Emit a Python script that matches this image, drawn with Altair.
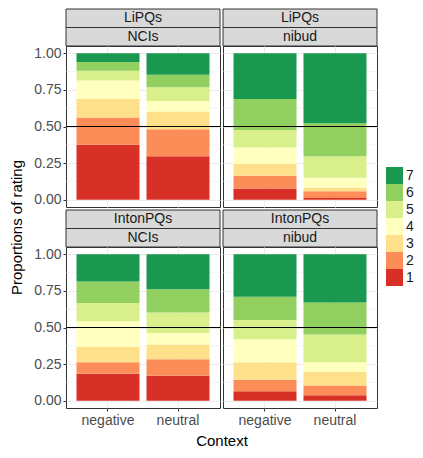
import altair as alt
import pandas as pd

# ---------------- data ----------------
contexts = ["negative", "neutral"]
ratings = ["1", "2", "3", "4", "5", "6", "7"]
palette = ["#D73027", "#FC8D59", "#FEE08B", "#FFFFBF", "#D9EF8B", "#91CF60", "#1A9850"]
row_labels = ["LiPQs", "IntonPQs"]
col_labels = ["NCIs", "nibud"]

# proportions of ratings 1..7 per context
lipqs_ncis_negative = [0.376, 0.186, 0.126, 0.126, 0.067, 0.059, 0.060]
lipqs_ncis_neutral = [0.296, 0.186, 0.120, 0.073, 0.093, 0.086, 0.146]
lipqs_nibud_negative = [0.077, 0.087, 0.079, 0.113, 0.120, 0.212, 0.312]
lipqs_nibud_neutral = [0.011, 0.047, 0.026, 0.066, 0.146, 0.226, 0.478]
inton_ncis_negative = [0.184, 0.079, 0.106, 0.173, 0.126, 0.146, 0.186]
inton_ncis_neutral = [0.170, 0.113, 0.100, 0.079, 0.140, 0.159, 0.239]
inton_nibud_negative = [0.064, 0.079, 0.119, 0.158, 0.132, 0.158, 0.290]
inton_nibud_neutral = [0.037, 0.066, 0.093, 0.066, 0.191, 0.217, 0.330]

y_ticks = [0, 0.25, 0.5, 0.75, 1.0]
minor_ticks = [0.125, 0.375, 0.625, 0.875]
reference_line = [0.5]

# ---------------- layout ----------------
W = 154
H = 161
SH = 18.5
GAP = 3
COLGAP = 3
FONT = "Liberation Sans"
Y_DOMAIN = [-0.05, 1.05]


def strip(top_label, bottom_label, gap):
    df = pd.DataFrame({"level": ["a", "b"], "label": [top_label, bottom_label]})
    y = alt.Y(
        "level:N",
        axis=None,
        scale=alt.Scale(domain=["a", "b"], range=[gap, gap + 2 * SH],
                        paddingInner=0, paddingOuter=0),
    )
    base = alt.Chart(df).encode(y=y)
    rect = base.mark_rect(fill="#D9D9D9", stroke="#333333", strokeWidth=1).encode(
        x=alt.value(0), x2=alt.value(W)
    )
    text = base.mark_text(
        font=FONT, fontSize=14, color="#1A1A1A", baseline="middle", align="center"
    ).encode(x=alt.value(W / 2), text="label:N")
    return (rect + text).properties(width=W, height=gap + 2 * SH)


def panel(neg, neu, show_y, show_x, y_title=False, x_title=False):
    rows = []
    for ctx, vals in zip(contexts, [neg, neu]):
        for r, v in zip(ratings, vals):
            rows.append({"Context": ctx, "rating": r, "rnum": int(r), "prop": v})
    df = pd.DataFrame(rows)

    yscale = alt.Scale(domain=Y_DOMAIN, nice=False, zero=False)

    y_axis_kw = dict(
        values=y_ticks, format=".2f", grid=True, gridColor="#EBEBEB", gridWidth=1,
        labels=show_y, ticks=show_y, domain=False, tickColor="#333333", tickSize=3,
        labelColor="#4D4D4D", labelFontSize=14, labelPadding=2, labelFont=FONT,
    )
    if y_title:
        y_axis_kw.update(
            title="Proportions of rating", titleX=-50, titleY=-20, titleAngle=270,
            titleBaseline="middle", titleAlign="center", titleFontSize=15,
            titleColor="black", titleFontWeight="normal", titleFont=FONT,
        )
    else:
        y_axis_kw.update(title=None)

    x_axis_kw = dict(
        grid=True, gridColor="#EBEBEB", gridWidth=1, labels=show_x, ticks=show_x,
        domain=False, tickColor="#333333", tickSize=3, labelAngle=0,
        labelColor="#4D4D4D", labelFontSize=14, labelPadding=2, labelFont=FONT,
    )
    if x_title:
        x_axis_kw.update(
            title="Context", titleX=(2 * W + COLGAP) / 2, titleY=32,
            titleBaseline="middle", titleAlign="center", titleFontSize=15,
            titleColor="black", titleFontWeight="normal", titleFont=FONT,
        )
    else:
        x_axis_kw.update(title=None)

    y_axis = alt.Axis(**y_axis_kw)

    minor = alt.Chart(pd.DataFrame({"prop": minor_ticks})).mark_rule(
        color="#EBEBEB", strokeWidth=0.5
    ).encode(y=alt.Y("prop:Q", scale=yscale, axis=y_axis))

    bars = alt.Chart(df).mark_bar().encode(
        x=alt.X("Context:N", sort=contexts,
                scale=alt.Scale(domain=contexts, paddingInner=0.1, paddingOuter=0.15),
                axis=alt.Axis(**x_axis_kw)),
        y=alt.Y("prop:Q", stack="zero", scale=yscale, axis=y_axis),
        color=alt.Color(
            "rating:N",
            scale=alt.Scale(domain=ratings[::-1], range=palette[::-1]),
            legend=alt.Legend(
                title=None, orient="none", legendX=320, legendY=158,
                symbolType="square", symbolSize=289, symbolStrokeWidth=0,
                symbolOpacity=1, rowPadding=0, labelFontSize=14, labelFont=FONT,
                labelColor="#1A1A1A", labelOffset=3, padding=0,
            ),
        ),
        order=alt.Order("rnum:Q", sort="ascending"),
    )

    mid = alt.Chart(pd.DataFrame({"prop": reference_line})).mark_rule(
        color="black", strokeWidth=1
    ).encode(y=alt.Y("prop:Q", scale=yscale, axis=y_axis))

    return alt.layer(minor, bars, mid).properties(
        width=W, height=H,
        view=alt.ViewBackground(stroke="#333333", strokeWidth=1),
    )


s11 = strip(row_labels[0], col_labels[0], 0)
s12 = strip(row_labels[0], col_labels[1], 0)
p11 = panel(lipqs_ncis_negative, lipqs_ncis_neutral, True, False)
p12 = panel(lipqs_nibud_negative, lipqs_nibud_neutral, False, False)
s21 = strip(row_labels[1], col_labels[0], GAP)
s22 = strip(row_labels[1], col_labels[1], GAP)
p21 = panel(inton_ncis_negative, inton_ncis_neutral, True, True, y_title=True, x_title=True)
p22 = panel(inton_nibud_negative, inton_nibud_neutral, False, True)

chart = alt.concat(
    s11, s12, p11, p12, s21, s22, p21, p22,
    columns=2, spacing={"row": 0, "column": COLGAP}, bounds="flush",
).resolve_scale(
    x="independent", y="independent", color="shared"
).properties(
    padding=0
).configure(
    font=FONT
).configure_view(
    stroke=None
)

chart.save("out.html", embed_options={"renderer": "svg", "actions": False})
